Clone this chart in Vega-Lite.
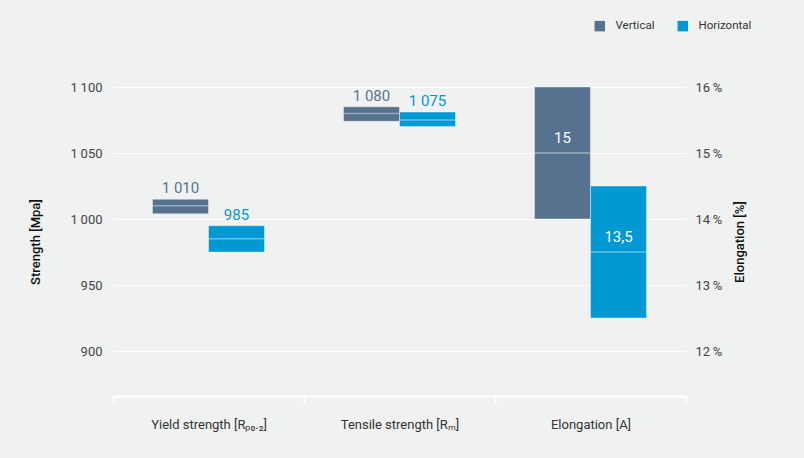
{
  "$schema": "https://vega.github.io/schema/vega-lite/v6.json",
  "width": 573,
  "height": 309,
  "autosize": {"type": "none"},
  "padding": {"left": 113, "top": 87, "right": 118, "bottom": 62},
  "background": "#f0f2f1",
  "config": {
    "view": {"stroke": null},
    "font": "Roboto",
    "axis": {"labelFont": "Roboto", "titleFont": "Roboto"},
    "legend": {"labelFont": "Roboto"}
  },
  "data": {
    "values": [
      {"property": "Yield strength [Rₚ₀.₂]", "direction": "Vertical", "group": "strength", "lo": 1004, "hi": 1015, "mid": 1010, "label": "1 010"},
      {"property": "Yield strength [Rₚ₀.₂]", "direction": "Horizontal", "group": "strength", "lo": 975, "hi": 995, "mid": 985, "label": "985"},
      {"property": "Tensile strength [Rₘ]", "direction": "Vertical", "group": "strength", "lo": 1074, "hi": 1085, "mid": 1080, "label": "1 080"},
      {"property": "Tensile strength [Rₘ]", "direction": "Horizontal", "group": "strength", "lo": 1070, "hi": 1081, "mid": 1075, "label": "1 075"},
      {"property": "Elongation [A]", "direction": "Vertical", "group": "elongation", "lo": 14, "hi": 16, "mid": 15, "label": "15"},
      {"property": "Elongation [A]", "direction": "Horizontal", "group": "elongation", "lo": 12.5, "hi": 14.5, "mid": 13.5, "label": "13,5"}
    ]
  },
  "encoding": {
    "x": {
      "field": "property",
      "type": "nominal",
      "scale": {
        "domain": ["Yield strength [Rₚ₀.₂]", "Tensile strength [Rₘ]", "Elongation [A]"],
        "paddingInner": 0,
        "paddingOuter": 0
      },
      "axis": {
        "title": null,
        "labelAngle": 0,
        "tickBand": "extent",
        "domainColor": "#ffffff",
        "domainWidth": 2,
        "tickColor": "#ffffff",
        "tickWidth": 2,
        "tickSize": 7,
        "labelPadding": 15,
        "labelFontSize": 13,
        "labelColor": "#333333",
        "grid": false
      }
    },
    "xOffset": {
      "field": "direction",
      "type": "nominal",
      "scale": {"domain": ["Vertical", "Horizontal"], "paddingInner": 0, "paddingOuter": 0.705}
    },
    "color": {
      "field": "direction",
      "type": "nominal",
      "scale": {"domain": ["Vertical", "Horizontal"], "range": ["#57728f", "#0099d4"]},
      "legend": {
        "title": null,
        "orient": "none",
        "direction": "horizontal",
        "legendX": 481,
        "legendY": -67,
        "symbolType": "square",
        "symbolSize": 110,
        "symbolStrokeWidth": 0,
        "labelFontSize": 11.5,
        "labelColor": "#333333",
        "labelOffset": 10,
        "columnPadding": 22
      }
    }
  },
  "layer": [
    {
      "transform": [{"filter": "datum.group === 'strength'"}],
      "layer": [
        {
          "mark": {"type": "bar", "stroke": "#ffffff", "strokeWidth": 0.8, "strokeOpacity": 0.5},
          "encoding": {
            "y": {
              "field": "lo",
              "type": "quantitative",
              "title": "Strength [Mpa]",
              "scale": {"domain": [866, 1100], "nice": false, "zero": false},
              "axis": {
                "values": [900, 950, 1000, 1050, 1100],
                "labelExpr": "replace(format(datum.value, ','), ',', '\u2009')",
                "domain": false,
                "ticks": false,
                "grid": true,
                "gridColor": "#ffffff",
                "gridWidth": 1.2,
                "labelPadding": 11,
                "labelFontSize": 13,
                "labelColor": "#444444",
                "titleFontSize": 13,
                "titleFontWeight": 500,
                "titleColor": "#111111",
                "titlePadding": 28
              }
            },
            "y2": {"field": "hi"}
          }
        },
        {
          "mark": {"type": "tick", "orient": "horizontal", "size": 56, "thickness": 1.5, "opacity": 0.4},
          "encoding": {
            "y": {"field": "mid", "type": "quantitative", "title": "Strength [Mpa]"},
            "color": {"value": "#ffffff"}
          }
        },
        {
          "mark": {"type": "text", "baseline": "alphabetic", "dy": -6, "fontSize": 15},
          "encoding": {
            "y": {"field": "hi", "type": "quantitative", "title": "Strength [Mpa]"},
            "text": {"field": "label"}
          }
        }
      ]
    },
    {
      "transform": [{"filter": "datum.group === 'elongation'"}],
      "layer": [
        {
          "mark": {"type": "bar", "stroke": "#ffffff", "strokeWidth": 0.8, "strokeOpacity": 0.5},
          "encoding": {
            "y": {
              "field": "lo",
              "type": "quantitative",
              "title": "Elongation [%]",
              "scale": {"domain": [11.32, 16], "nice": false, "zero": false},
              "axis": {
                "orient": "right",
                "values": [12, 13, 14, 15, 16],
                "labelExpr": "datum.value + '\u2009%'",
                "domain": false,
                "ticks": false,
                "grid": false,
                "labelPadding": 9,
                "labelFontSize": 13,
                "labelColor": "#444444",
                "titleFontSize": 13,
                "titleFontWeight": 500,
                "titleColor": "#111111",
                "titleAngle": 270,
                "titleBaseline": "top",
                "titlePadding": 12
              }
            },
            "y2": {"field": "hi"}
          }
        },
        {
          "mark": {"type": "tick", "orient": "horizontal", "size": 56, "thickness": 1.5, "opacity": 0.4},
          "encoding": {
            "y": {"field": "mid", "type": "quantitative", "title": "Elongation [%]"},
            "color": {"value": "#ffffff"}
          }
        },
        {
          "mark": {"type": "text", "baseline": "alphabetic", "dy": -10, "fontSize": 15},
          "encoding": {
            "y": {"field": "mid", "type": "quantitative", "title": "Elongation [%]"},
            "text": {"field": "label"},
            "color": {"value": "#ffffff"}
          }
        }
      ]
    }
  ],
  "resolve": {"scale": {"y": "independent"}, "axis": {"y": "independent"}}
}
